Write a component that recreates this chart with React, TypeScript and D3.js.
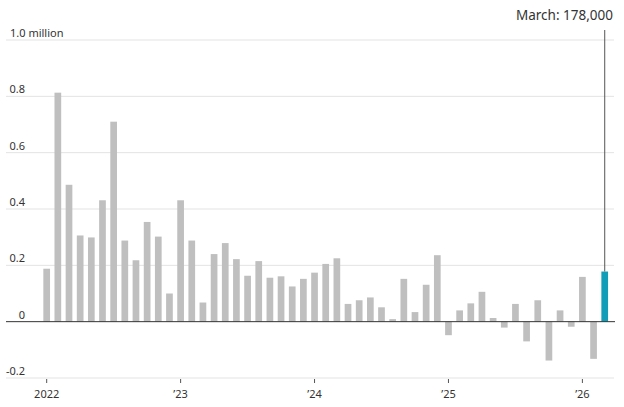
import React from "react";
import * as d3 from "d3";

const months: string[] = [];
for (let y = 2022; y <= 2026; y++) {
  for (let m = 1; m <= 12; m++) {
    if (y === 2026 && m > 3) break;
    months.push(`${y}-${String(m).padStart(2, "0")}`);
  }
}

const values: number[] = [
  0.188, 0.813, 0.486, 0.306, 0.299, 0.431, 0.71, 0.288, 0.218, 0.354, 0.302, 0.1,
  0.431, 0.288, 0.068, 0.24, 0.279, 0.222, 0.163, 0.215, 0.156, 0.161, 0.125, 0.152,
  0.174, 0.205, 0.225, 0.063, 0.076, 0.086, 0.051, 0.009, 0.152, 0.034, 0.131, 0.236,
  -0.048, 0.04, 0.065, 0.106, 0.013, -0.021, 0.063, -0.07, 0.076, -0.138, 0.04, -0.018,
  0.159, -0.132, 0.178,
];

const yTicks: number[] = [-0.2, 0, 0.2, 0.4, 0.6, 0.8, 1.0];
const yTickLabels: string[] = ["-0.2", "0", "0.2", "0.4", "0.6", "0.8", "1.0 million"];
const xTickMonths: string[] = ["2022-01", "2023-01", "2024-01", "2025-01", "2026-01"];
const xTickLabels: string[] = ["2022", "\u201923", "\u201924", "\u201925", "\u201926"];
const annotation = "March: 178,000";

const W = 624;
const H = 407;
const FONT = "'Noto Sans', 'Open Sans', sans-serif";

export default function App() {
  const x = d3
    .scaleBand<string>()
    .domain(months)
    .range([41.1, 610.3])
    .paddingInner(0.4)
    .paddingOuter(0.2);
  const y = d3.scaleLinear().domain([-0.2, 1.0]).range([378, 40]);
  const gridX0 = 6;
  const gridX1 = 614;
  const last = months.length - 1;
  const lastX = (x(months[last]) as number) + x.bandwidth() / 2;

  return (
    <svg
      width={W}
      height={H}
      style={{ position: "absolute", left: 0, top: 0, background: "#fff" }}
      fontFamily={FONT}
    >
      {yTicks.map((t, i) =>
        t === 0 ? null : (
          <line
            key={"g" + i}
            x1={gridX0}
            x2={gridX1}
            y1={y(t)}
            y2={y(t)}
            stroke="#e3e3e3"
            strokeWidth={1}
          />
        )
      )}
      {yTicks.map((t, i) =>
        i === yTicks.length - 1 ? (
          <text key={"yl" + i} x={10} y={y(t) - 3} fontSize={11} fill="#333">
            {yTickLabels[i]}
          </text>
        ) : (
          <text
            key={"yl" + i}
            x={25}
            y={y(t) - 3}
            fontSize={11}
            fill="#333"
            textAnchor="end"
          >
            {yTickLabels[i]}
          </text>
        )
      )}
      {values.map((v, i) => (
        <rect
          key={"b" + i}
          x={x(months[i]) as number}
          width={x.bandwidth()}
          y={Math.min(y(v), y(0))}
          height={Math.abs(y(v) - y(0))}
          fill={i === last ? "#0f9db8" : "#bfbfbf"}
        />
      ))}
      <line x1={gridX0} x2={gridX1 + 1} y1={y(0)} y2={y(0)} stroke="#333" strokeWidth={1} />
      {xTickMonths.map((m, i) => {
        const cx = (x(m) as number) + x.bandwidth() / 2;
        return (
          <g key={"xt" + i}>
            <line x1={cx} x2={cx} y1={379} y2={383} stroke="#555" strokeWidth={1} />
            <text x={cx} y={398} fontSize={11} fill="#333" textAnchor="middle">
              {xTickLabels[i]}
            </text>
          </g>
        );
      })}
      <line
        x1={lastX}
        x2={lastX}
        y1={30}
        y2={y(values[last])}
        stroke="#555"
        strokeWidth={1}
      />
      <text x={613} y={20} fontSize={13.5} fill="#333" textAnchor="end">
        {annotation}
      </text>
    </svg>
  );
}
